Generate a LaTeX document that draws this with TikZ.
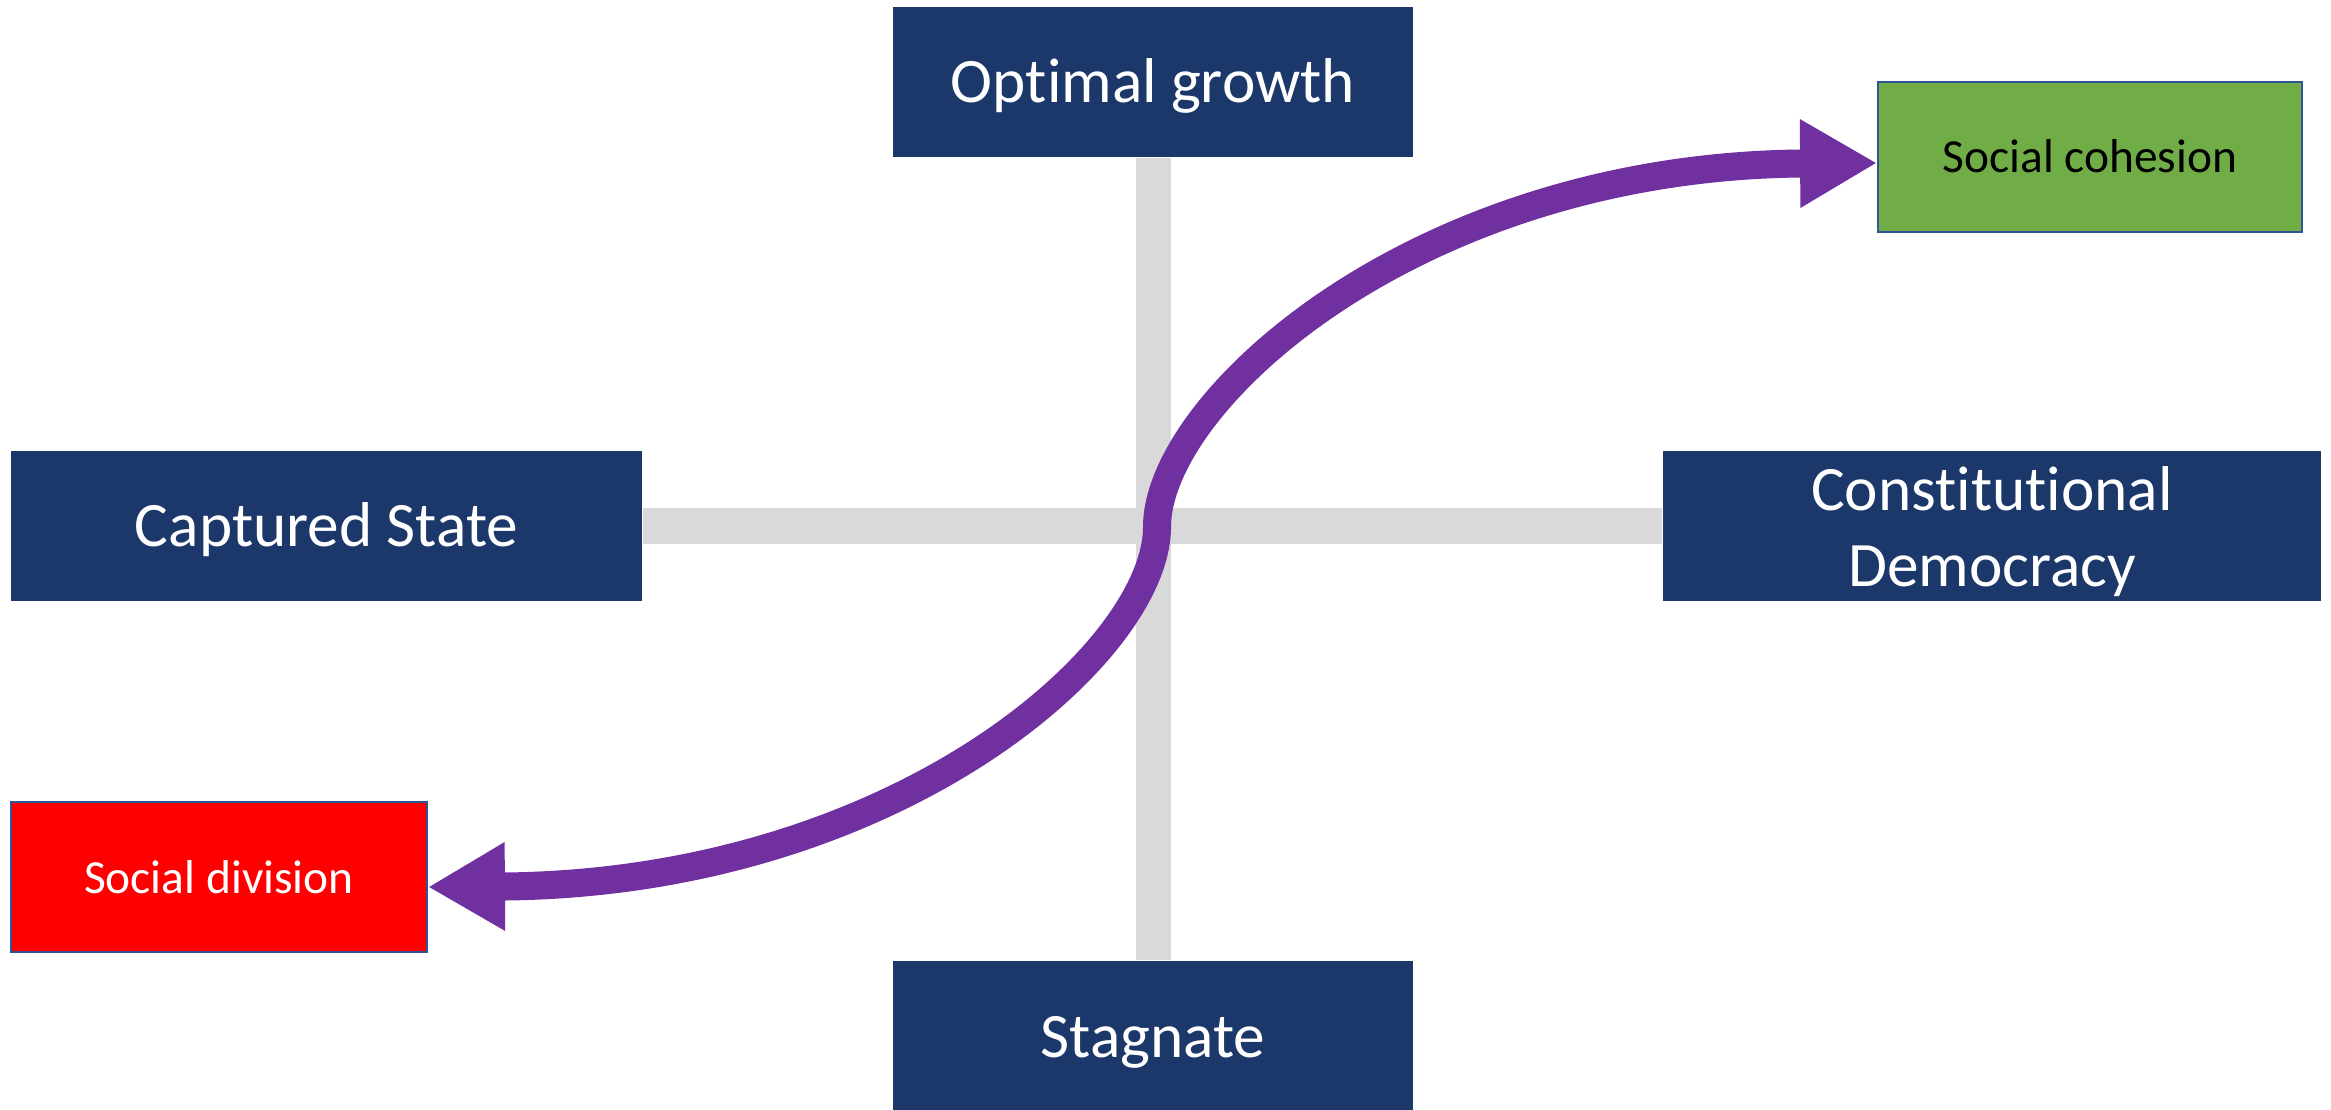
\documentclass[tikz,border=0pt]{standalone}
\usepackage{fontspec}
\setmainfont{Carlito}[Ligatures=NoCommon]
\usetikzlibrary{arrows.meta}
\definecolor{boxblue}{RGB}{28,56,107}
\definecolor{cohgreen}{HTML}{70AD47}
\definecolor{divred}{HTML}{FF0000}
\definecolor{edgeblue}{HTML}{2F5597}
\definecolor{arrowpurple}{HTML}{7030A0}
\definecolor{bargrey}{HTML}{D9D9D9}
\tikzset{
  bluebox/.style={rectangle, fill=boxblue, draw=none, text=white, minimum height=1.5cm,
    inner sep=0pt, align=center, font=\fontsize{18}{21.6}\selectfont},
  oneline/.style={text height=16pt, text depth=4.06pt},
  boxtext/.style={text=white, inner sep=0pt, align=center, font=\fontsize{18}{21.6}\selectfont},
  outcomebox/.style={rectangle, draw=edgeblue, line width=0.015cm, minimum height=1.5cm,
    inner sep=0pt, text height=12.2pt, text depth=3.1pt, font=\fontsize{13.5}{16}\selectfont},
  greybar/.style={draw=bargrey, line width=0.35cm},
  pathline/.style={draw=arrowpurple, line width=0.28cm,
    {Triangle[length=0.77cm,width=0.83cm]}-{Triangle[length=0.77cm,width=0.83cm]}}
}
\begin{document}
\begin{tikzpicture}[x=0.01cm,y=-0.01cm]
\useasboundingbox (0,0) rectangle (2331,1110);
\node[bluebox, oneline, minimum width=5.2cm] (opt) at (1153,82) {Optimal growth};
\node[bluebox, oneline, minimum width=5.2cm] (stag) at (1153,1036) {Stagnate};
\node[bluebox, oneline, minimum width=6.31cm] (cap) at (326.5,526) {Captured State};
\node[bluebox, minimum width=6.58cm] (con) at (1992,526) {};
\node[boxtext] (context) at ([yshift=-0.06cm]con.center) {Constitutional\\Democracy};
\node[outcomebox, fill=cohgreen, text=black, minimum width=4.24cm] (coh) at (2090,157) {Social cohesion};
\node[outcomebox, fill=divred, text=white, minimum width=4.16cm] (div) at (219,877) {Social division};
\coordinate (mid) at (1157,527);
\draw[greybar] (opt.south) -- (stag.north);
\draw[greybar] (cap.east) -- (con.west);
\draw[pathline] ([yshift=-0.1cm]div.east) .. controls (897,884) and (1157,652) .. (mid)
  .. controls (1157,402) and (1415,166) .. ([yshift=-0.06cm]coh.west);
\end{tikzpicture}
\end{document}
